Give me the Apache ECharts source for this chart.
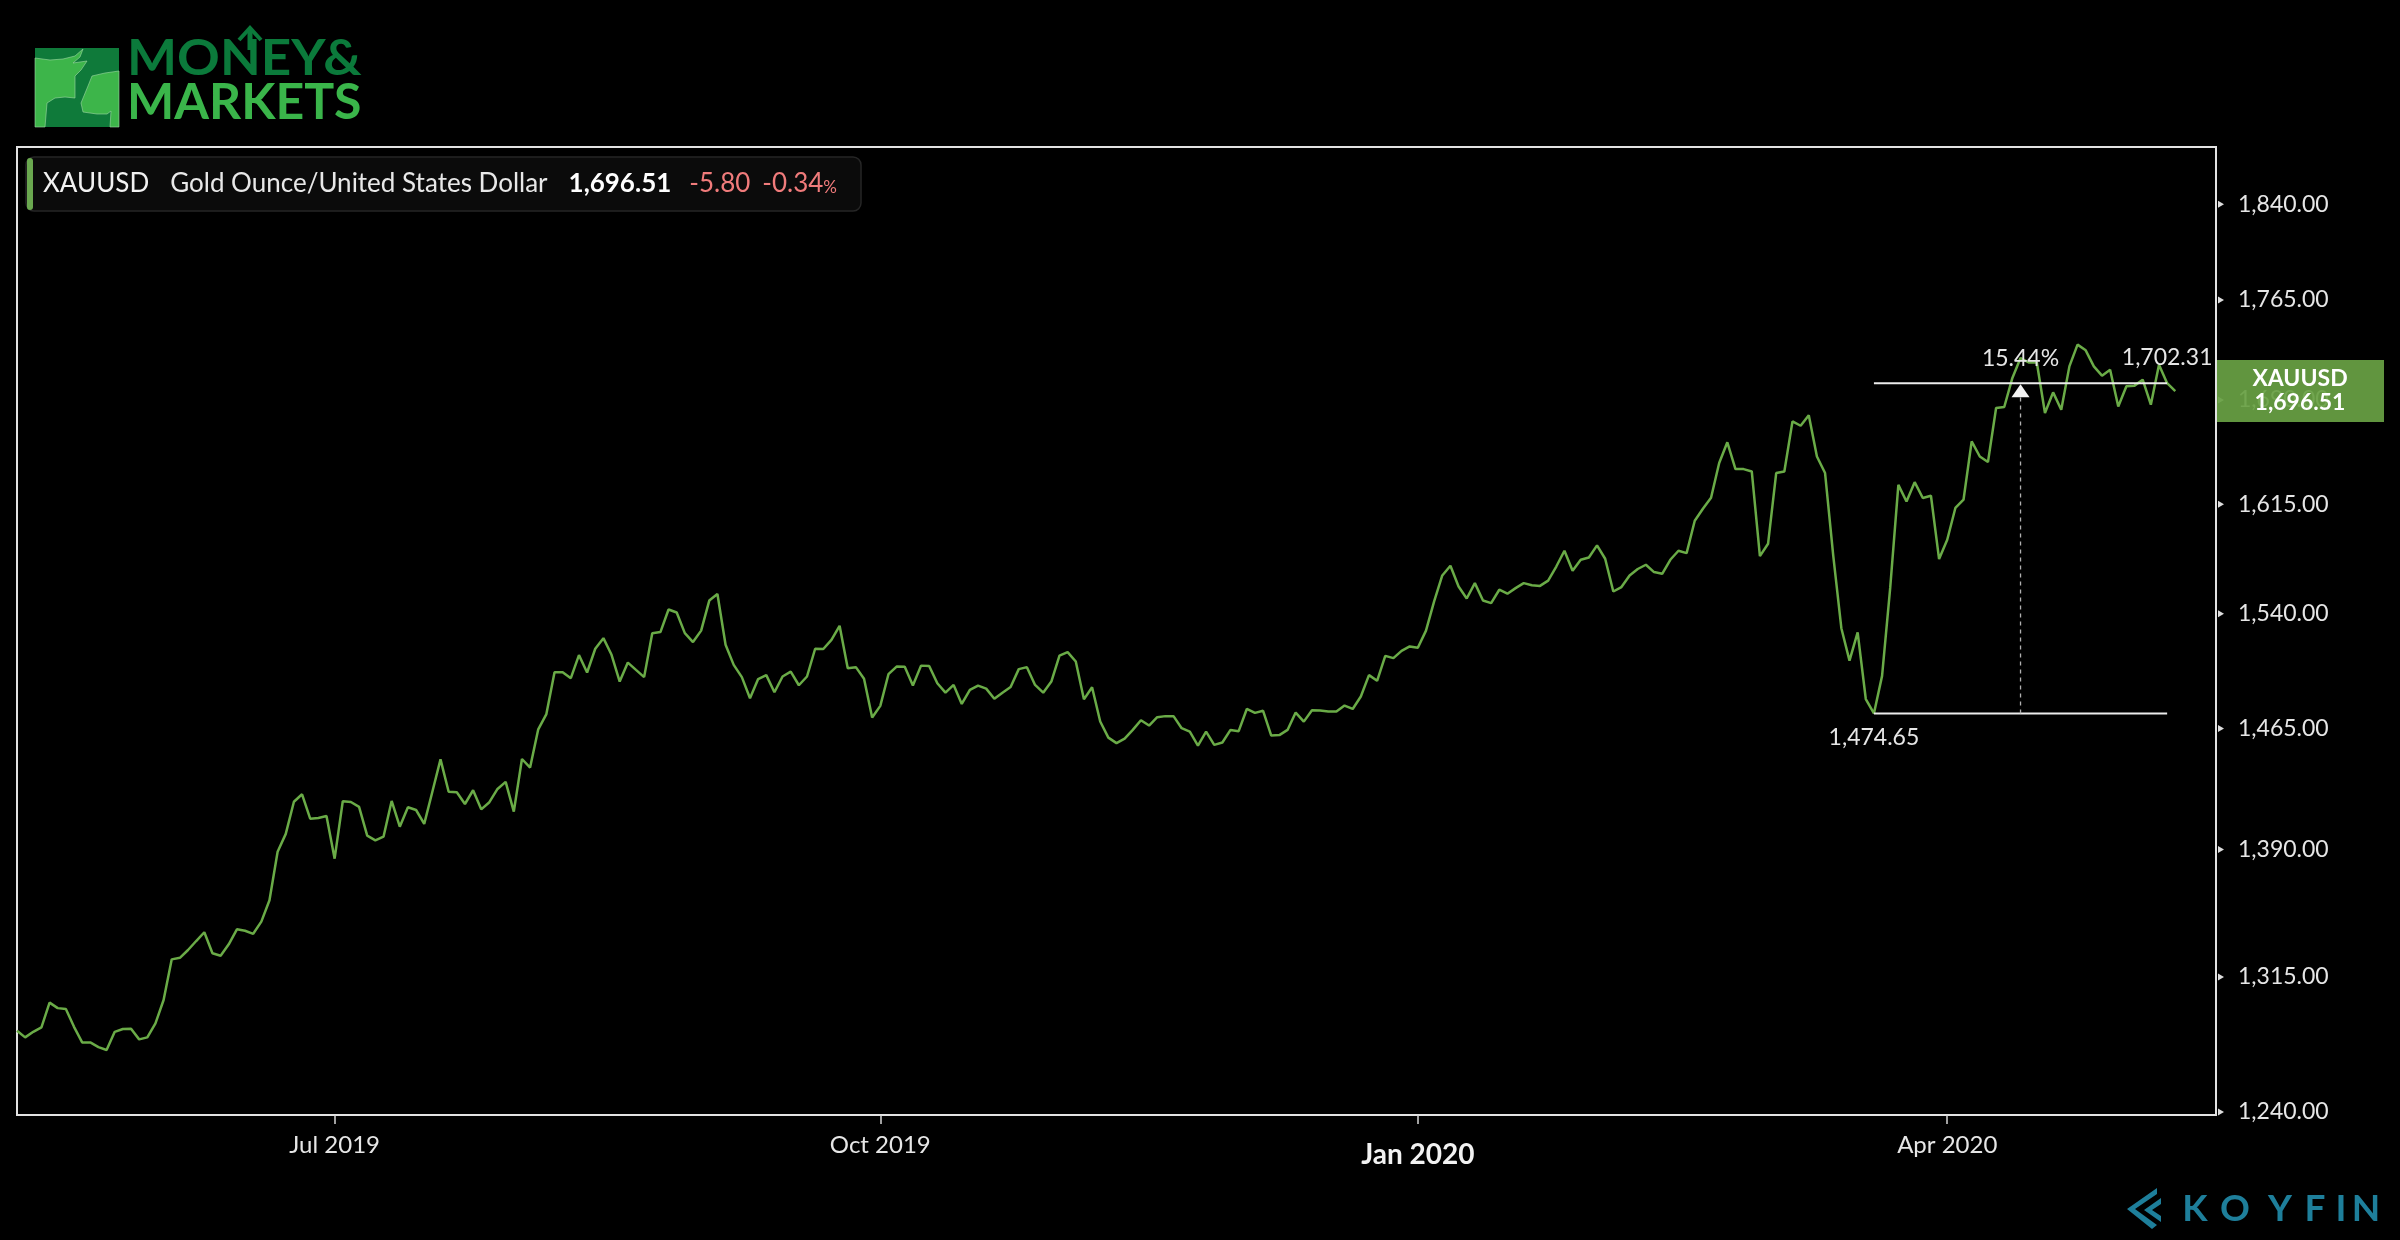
<!DOCTYPE html>
<html><head><meta charset="utf-8">
<script src="https://cdn.jsdelivr.net/npm/echarts@6/dist/echarts.min.js"></script>
<style>html,body{margin:0;padding:0;background:#000;}#c{width:2400px;height:1240px;}</style>
</head><body><div id="c"></div>
<script>
// ---- data ----
const SLOTS = 271; // trading-day slots on the x axis (data + empty right margin)
const categories = Array.from({length: SLOTS}, (_, i) => 'D' + i);
const xTickIdx = [39, 106, 172, 237];
const xTickLabels = ['Jul 2019', 'Oct 2019', 'Jan 2020', 'Apr 2020'];
const boldTickLabel = 'Jan 2020';
const yTicks = [1240, 1315, 1390, 1465, 1540, 1615, 1690, 1765, 1840];
const symbol = 'XAUUSD';
const seriesName = 'Gold Ounce/United States Dollar';
const values = [
1284.6, 1280.9, 1284.0, 1286.5, 1300.4, 1297.3, 1296.8, 1286.8, 1278.1, 1278.1,
1275.5, 1273.9, 1284.0, 1285.6, 1285.7, 1279.8, 1280.9, 1288.7, 1301.9, 1325.1,
1326.0, 1330.5, 1335.7, 1340.8, 1328.6, 1327.2, 1333.8, 1342.5, 1341.7, 1339.9,
1347.0, 1359.6, 1388.6, 1399.4, 1419.1, 1423.7, 1408.7, 1409.1, 1410.3, 1384.4,
1419.4, 1418.9, 1415.9, 1398.3, 1395.5, 1397.7, 1419.6, 1403.8, 1415.7, 1414.0,
1405.5, 1425.3, 1445.5, 1425.3, 1425.0, 1417.7, 1426.2, 1414.4, 1418.8, 1427.0,
1431.4, 1413.0, 1445.7, 1440.3, 1464.5, 1474.2, 1501.3, 1501.3, 1497.4, 1512.5,
1501.1, 1516.7, 1523.7, 1512.7, 1495.2, 1507.6, 1502.8, 1498.1, 1527.0, 1527.7,
1542.8, 1540.8, 1527.0, 1521.1, 1528.7, 1548.8, 1553.2, 1519.3, 1506.1, 1498.1,
1484.4, 1496.8, 1499.4, 1488.3, 1498.5, 1501.7, 1492.8, 1498.5, 1516.7, 1516.5,
1522.6, 1531.9, 1503.9, 1504.6, 1497.0, 1472.0, 1479.5, 1500.0, 1505.0, 1504.8,
1492.6, 1505.6, 1505.4, 1494.1, 1488.0, 1493.0, 1480.7, 1489.8, 1492.6, 1490.6,
1484.1, 1488.0, 1491.7, 1503.3, 1504.6, 1493.0, 1488.0, 1495.2, 1512.2, 1514.5,
1508.3, 1483.7, 1491.5, 1469.5, 1459.2, 1455.7, 1458.6, 1464.1, 1470.3, 1466.9,
1472.2, 1472.9, 1472.9, 1465.2, 1463.0, 1454.2, 1463.0, 1454.6, 1456.1, 1464.1,
1463.3, 1477.5, 1475.0, 1476.3, 1460.5, 1460.8, 1464.1, 1475.2, 1469.4, 1476.7,
1476.5, 1475.8, 1475.8, 1479.7, 1477.5, 1485.5, 1499.4, 1495.7, 1512.0, 1510.5,
1515.3, 1518.2, 1517.3, 1528.7, 1548.2, 1565.8, 1572.4, 1558.3, 1550.2, 1560.6,
1548.8, 1547.1, 1556.1, 1553.4, 1557.2, 1560.6, 1559.2, 1558.7, 1562.3, 1571.9,
1582.7, 1569.0, 1576.5, 1578.1, 1586.4, 1577.2, 1554.9, 1557.9, 1565.8, 1570.2,
1573.1, 1568.1, 1566.9, 1576.5, 1582.7, 1581.1, 1603.5, 1611.9, 1619.6, 1644.2,
1659.1, 1639.9, 1639.9, 1638.2, 1579.0, 1587.5, 1637.1, 1638.2, 1674.3, 1671.1,
1678.8, 1648.9, 1637.1, 1579.5, 1530.3, 1508.9, 1527.5, 1483.9, 1474.65, 1498.9,
1557.5, 1628.7, 1617.0, 1630.6, 1619.4, 1621.0, 1577.0, 1590.3, 1612.4, 1618.2,
1659.8, 1648.9, 1644.9, 1684.0, 1684.8, 1706.2, 1721.0, 1717.7, 1717.7, 1680.4,
1695.5, 1682.8, 1714.8, 1731.1, 1726.8, 1714.8, 1707.9, 1712.3, 1685.2, 1700.0,
1700.5, 1704.9, 1686.5, 1716.0, 1702.31, 1696.51
];
const measureFrom = 228; // low point of the measure tool
const measureTo = 264;   // end point of the measure tool

// ---- helpers ----
const fmt = v => Number(v).toLocaleString('en-US', {minimumFractionDigits: 2, maximumFractionDigits: 2});
const FONT = 'Lato, "Open Sans", sans-serif';
const lastIdx = values.length - 1;
const last = values[lastIdx], prev = values[lastIdx - 1];
const chg = last - prev, pct = chg / prev * 100;

const chart = echarts.init(document.getElementById('c'), null, {renderer: 'canvas'});
const GRID = {left: 17, right: 184, top: 147, bottom: 125};
const option = {
  backgroundColor: '#000',
  animation: false,
  grid: Object.assign({show: true, borderColor: '#e2e2e2', borderWidth: 2, containLabel: false}, GRID),
  xAxis: {
    type: 'category', data: categories, boundaryGap: false,
    axisLine: {show: false}, splitLine: {show: false},
    axisTick: {show: true, interval: i => xTickIdx.includes(i), length: 9, lineStyle: {color: '#d6d6d6', width: 1.5}},
    axisLabel: {
      interval: i => xTickIdx.includes(i), margin: 18,
      formatter: (v, i) => { const k = xTickIdx.indexOf(i); if (k < 0) return ''; const t = xTickLabels[k]; return t === boldTickLabel ? '{b|' + t + '}' : '{n|' + t + '}'; },
      rich: {
        n: {fontFamily: FONT, fontSize: 24, color: '#e6e6e6'},
        b: {fontFamily: FONT, fontSize: 28, fontWeight: 'bold', color: '#f2f2f2', padding: [8, 0, 0, 0]}
      }
    }
  },
  yAxis: {
    type: 'log', logBase: 10, position: 'right', min: 1238.4, max: 1886.4,
    axisLine: {show: false}, splitLine: {show: false}, minorTick: {show: false},
    axisTick: {show: false, customValues: yTicks},
    axisLabel: {customValues: yTicks, formatter: v => fmt(v), margin: 22, color: '#e6e6e6', fontFamily: FONT, fontSize: 23}
  },
  series: [{
    type: 'line', name: symbol, data: values, symbol: 'none', smooth: false,
    lineStyle: {color: '#6aab47', width: 2.5}, z: 3
  }]
};
chart.setOption(option);

const px = (i, v) => chart.convertToPixel({gridIndex: 0}, [categories[i], v]);
const gridRightX = 2400 - GRID.right;
const T = (text, x, y, font, fill, align, vAlign, extra) => ({
  type: 'text', z: 60, silent: true,
  style: Object.assign({text, x, y, font, fill, align: align || 'left', textAlign: align || 'left',
    verticalAlign: vAlign || 'middle', textVerticalAlign: vAlign || 'middle'}, extra || {})
});

const g = [];
// ---- Money & Markets logo ----
g.push({type: 'group', x: 35, y: 48, z: 60, children: [
  {type: 'rect', shape: {x: 0, y: 0, width: 84, height: 79}, style: {fill: '#0f7a3a'}},
  {type: 'polygon', shape: {points: [[0,10],[15,12],[28,11],[40,8],[48,1],[45,9],[38,15],[52,13],[46,22],[40,28],[40,50],[30,49],[20,50],[12,55],[10,79],[0,79]]}, style: {fill: '#3db54a', stroke: '#9fd8a5', lineWidth: 0.6}},
  {type: 'polygon', shape: {points: [[84,23],[70,25],[57,28],[53,38],[46,55],[48,64],[62,66],[72,66],[76,63],[75,79],[84,79]]}, style: {fill: '#3db54a', stroke: '#9fd8a5', lineWidth: 0.6}}
]});
const moneyTxt = T('MONEY&', 0, 0, 'bold 50px ' + FONT, '#0b7a3b', 'left', 'bottom');
moneyTxt.x = 127; moneyTxt.y = 84; moneyTxt.scaleX = 1.06;
g.push(moneyTxt);
g.push(T('MARKETS', 127, 128, 'bold 50px ' + FONT, '#3ab54a', 'left', 'bottom'));
g.push({type: 'polyline', z: 61, shape: {points: [[250,50],[250,29]]}, style: {stroke: '#0b7a3b', lineWidth: 5}});
g.push({type: 'polyline', z: 61, shape: {points: [[239,40],[250,28],[261,40]]}, style: {stroke: '#0b7a3b', lineWidth: 4, fill: null}});

// ---- legend box ----
g.push({type: 'rect', z: 59, shape: {x: 26, y: 157, width: 835, height: 54, r: 8}, style: {fill: '#0b0b0b', stroke: '#262626', lineWidth: 1.5}});
g.push({type: 'rect', z: 60, shape: {x: 27, y: 158, width: 6, height: 52, r: 3}, style: {fill: '#6aa84f'}});
g.push({type: 'text', z: 60, style: {
  x: 43, y: 184, verticalAlign: 'middle', textVerticalAlign: 'middle',
  text: '{a|' + symbol + '}{b|' + seriesName + '}{c|' + fmt(last) + '}{d|' + chg.toFixed(2) + '}{d|' + pct.toFixed(2) + '}{e|%}',
  rich: {
    a: {font: '26px ' + FONT, fill: '#f2f2f2', padding: [0, 21, 0, 0]},
    b: {font: '26px ' + FONT, fill: '#e8e8e8', padding: [0, 21, 0, 0]},
    c: {font: 'bold 26px ' + FONT, fill: '#ffffff', padding: [0, 18, 0, 0]},
    d: {font: '26px ' + FONT, fill: '#f07b7b', padding: [0, 12, 0, 0]},
    e: {font: '17px ' + FONT, fill: '#f07b7b', padding: [8, 0, 0, -12]}
  }
}});

// ---- y tick markers ----
yTicks.forEach(v => {
  const y = px(0, v)[1];
  g.push({type: 'polygon', z: 55, shape: {points: [[gridRightX + 2, y - 3.5], [gridRightX + 8, y], [gridRightX + 2, y + 3.5]]}, style: {fill: '#dcdcdc'}});
});

// ---- last price tag ----
const tagY = px(lastIdx, last)[1];
g.push({type: 'rect', z: 70, shape: {x: gridRightX + 1, y: tagY - 31, width: 167, height: 62}, style: {fill: '#68a044', opacity: 0.93}});
const tagTxt = T(symbol + '\n' + fmt(last), gridRightX + 84, tagY, 'bold 23px ' + FONT, '#ffffff', 'center', 'middle', {lineHeight: 24});
tagTxt.z = 71;
g.push(tagTxt);

// ---- measure annotation ----
const lo = values[measureFrom], hi = values[measureTo];
const pA = px(measureFrom, lo), pB = px(measureTo, lo), pC = px(measureFrom, hi), pD = px(measureTo, hi);
const midIdx = Math.round((measureFrom + measureTo) / 2);
const pM = px(midIdx, lo), pMh = px(midIdx, hi);
g.push({type: 'line', z: 62, shape: {x1: pA[0], y1: pA[1], x2: pB[0], y2: pB[1]}, style: {stroke: '#ececec', lineWidth: 2}});
g.push({type: 'line', z: 62, shape: {x1: pC[0], y1: pC[1], x2: pD[0], y2: pD[1]}, style: {stroke: '#ececec', lineWidth: 2}});
g.push({type: 'line', z: 62, shape: {x1: pM[0], y1: pM[1], x2: pMh[0], y2: pMh[1] + 13}, style: {stroke: '#b0b0b0', lineWidth: 1.3, lineDash: [4, 4]}});
g.push({type: 'polygon', z: 63, shape: {points: [[pMh[0], pMh[1] + 1], [pMh[0] - 9, pMh[1] + 14], [pMh[0] + 9, pMh[1] + 14]]}, style: {fill: '#f2f2f2'}});
g.push(T(fmt(lo), pA[0], pA[1] + 24, '23px ' + FONT, '#e6e6e6', 'center', 'middle'));
g.push(T(((hi / lo - 1) * 100).toFixed(2) + '%', pMh[0], pMh[1] - 25, '23px ' + FONT, '#e6e6e6', 'center', 'middle'));
g.push(T(fmt(hi), pD[0], pD[1] - 26, '23px ' + FONT, '#e6e6e6', 'center', 'middle'));

// ---- KOYFIN watermark ----
const kColor = '#1e7f9b';
g.push({type: 'polygon', z: 60, shape: {points: [[2157,1188],[2127,1209],[2152,1229],[2157,1225],[2135,1209],[2157,1194]]}, style: {fill: kColor}});
g.push({type: 'polygon', z: 60, shape: {points: [[2161,1198],[2144,1210],[2161,1222],[2161,1216],[2152,1210],[2161,1204]]}, style: {fill: kColor}});
const kLetters = ['K', 'O', 'Y', 'F', 'I', 'N'];
const kX = [2195, 2235, 2280, 2315, 2341, 2366];
kLetters.forEach((ch, i) => g.push(T(ch, kX[i], 1209, 'bold 37px ' + FONT, kColor, 'center', 'middle')));

chart.setOption({graphic: {elements: g}});
</script>
</body></html>
